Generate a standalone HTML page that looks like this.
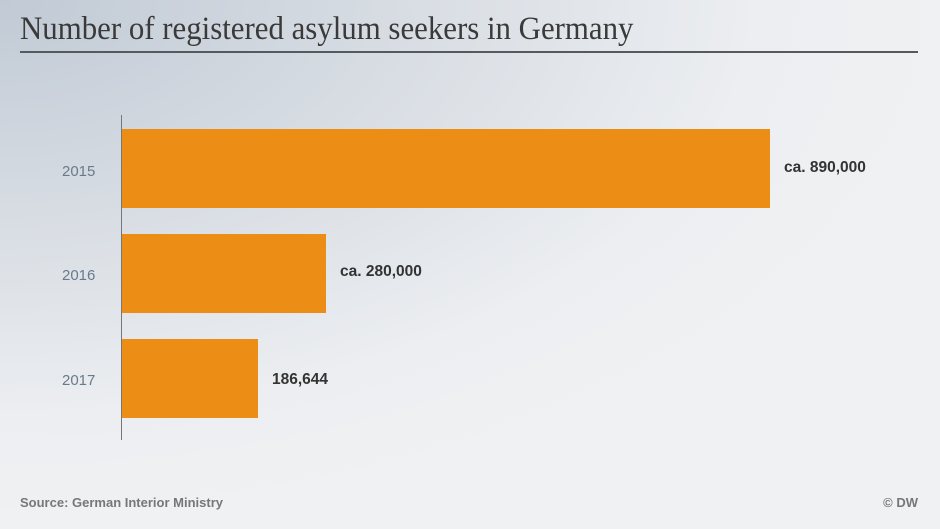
<!DOCTYPE html>
<html><head><meta charset="utf-8"><style>
html,body{margin:0;padding:0}
body{width:940px;height:529px;position:relative;overflow:hidden;
background:radial-gradient(ellipse 950px 520px at 0px 0px,#c1cad5 0%,#d9dee4 45%,#eceef1 80%,#f0f1f3 100%);
font-family:"Liberation Sans",sans-serif}
.t{position:absolute;left:20px;top:11px;font-family:"Liberation Serif",serif;font-size:33px;color:#3a3a3a;transform:scaleX(0.935);transform-origin:0 0;white-space:nowrap}
.ul{position:absolute;left:20px;top:51px;width:898px;height:2px;background:#555a5e}
.ax{position:absolute;left:121px;top:115px;width:1px;height:325px;background:#777}
.bar{position:absolute;left:122px;height:79px;background:#ec8d16}
.y{position:absolute;left:62px;font-size:15px;color:#687a8c}
.v{position:absolute;font-size:15.5px;font-weight:bold;color:#333;white-space:nowrap}
.f{position:absolute;top:495px;font-size:13px;font-weight:bold;color:#777;white-space:nowrap}
</style></head><body>
<div class="t">Number of registered asylum seekers in Germany</div>
<div class="ul"></div>
<div class="ax"></div>
<div class="bar" style="top:129px;width:648px"></div>
<div class="bar" style="top:234px;width:204px"></div>
<div class="bar" style="top:339px;width:136px"></div>
<div class="y" style="top:163px">2015</div>
<div class="y" style="top:267px">2016</div>
<div class="y" style="top:372px">2017</div>
<div class="v" style="left:784px;top:159px">ca. 890,000</div>
<div class="v" style="left:340px;top:263px">ca. 280,000</div>
<div class="v" style="left:272px;top:371px">186,644</div>
<div class="f" style="left:20px">Source: German Interior Ministry</div>
<div class="f" style="right:22px">© DW</div>
</body></html>
